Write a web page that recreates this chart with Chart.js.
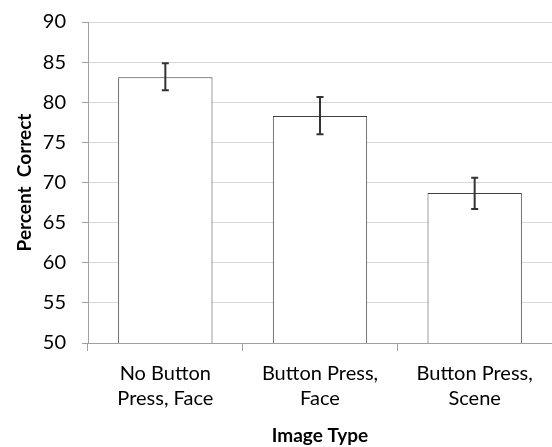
<!DOCTYPE html>
<html lang="en">
<head>
  <meta charset="UTF-8">
  <title>Percent Correct by Image Type</title>
  <script src="https://cdn.jsdelivr.net/npm/chart.js"></script>
  <style>
    html, body { margin: 0; padding: 0; background: #fff; }
    #wrap { width: 552px; height: 447px; }
  </style>
</head>
<body>
  <div id="wrap"><canvas id="chart"></canvas></div>

  <script>
    // data
    const categories = [['No Button', 'Press, Face'], ['Button Press,', 'Face'], ['Button Press,', 'Scene']];
    const percentCorrect = [83.1, 78.3, 68.7];
    const errLow = [81.5, 76.0, 66.7];
    const errHigh = [84.85, 80.65, 70.6];
    const yTicks = [50, 55, 60, 65, 70, 75, 80, 85, 90];

    const fontFamily = 'Lato, "Open Sans", sans-serif';

    // draws the error bars through the chart's own scales
    const errorBars = {
      id: 'errorBars',
      afterDatasetsDraw(chart) {
        const { ctx, scales: { x, y } } = chart;
        ctx.save();
        ctx.strokeStyle = '#333';
        ctx.lineWidth = 2;
        errLow.forEach((lo, i) => {
          const cx = x.getPixelForValue(i);
          const yLo = y.getPixelForValue(lo);
          const yHi = y.getPixelForValue(errHigh[i]);
          ctx.beginPath();
          ctx.moveTo(cx, yLo); ctx.lineTo(cx, yHi);
          ctx.moveTo(cx - 3.5, yLo); ctx.lineTo(cx + 3.5, yLo);
          ctx.moveTo(cx - 3.5, yHi); ctx.lineTo(cx + 3.5, yHi);
          ctx.stroke();
        });
        ctx.restore();
      }
    };

    new Chart(document.getElementById('chart'), {
      type: 'bar',
      data: {
        labels: categories,
        datasets: [{
          data: percentCorrect,
          backgroundColor: '#ffffff',
          borderColor: '#404040',
          borderWidth: 1,
          categoryPercentage: 1,
          barPercentage: 0.61
        }]
      },
      options: {
        responsive: true,
        maintainAspectRatio: false,
        animation: false,
        layout: { padding: { top: 22, right: 0, bottom: 0, left: 0 } },
        plugins: {
          legend: { display: false },
          tooltip: { enabled: false }
        },
        scales: {
          x: {
            grid: {
              offset: true,
              drawOnChartArea: false,
              tickLength: 8,
              tickColor: '#a0a0a0'
            },
            border: { color: '#a0a0a0' },
            ticks: {
              color: '#000',
              font: { family: fontFamily, size: 20, lineHeight: 1.25 },
              padding: 10,
              maxRotation: 0
            },
            title: {
              display: true,
              text: 'Image Type',
              color: '#000',
              font: { family: fontFamily, size: 19, weight: 'bold' },
              padding: { top: 7, bottom: 0 }
            },
            afterFit(scale) { scale.height = 104; }
          },
          y: {
            min: 50,
            max: 90,
            afterBuildTicks(scale) { scale.ticks = yTicks.map(v => ({ value: v })); },
            grid: {
              color: '#d8d8d8',
              borderDash: [3, 2],
              tickLength: 6,
              tickColor: '#a0a0a0',
              tickBorderDash: []
            },
            border: { color: '#a0a0a0' },
            ticks: {
              color: '#000',
              font: { family: fontFamily, size: 20 },
              padding: 16
            },
            title: {
              display: true,
              text: 'Percent  Correct',
              color: '#000',
              font: { family: fontFamily, size: 19, weight: 'bold' },
              padding: { top: 13, bottom: 0 }
            },
            afterFit(scale) {
              scale.width = 88;
              scale.paddingTop = 0;
              scale.paddingBottom = 0;
            }
          }
        }
      },
      plugins: [errorBars]
    });
  </script>
</body>
</html>
